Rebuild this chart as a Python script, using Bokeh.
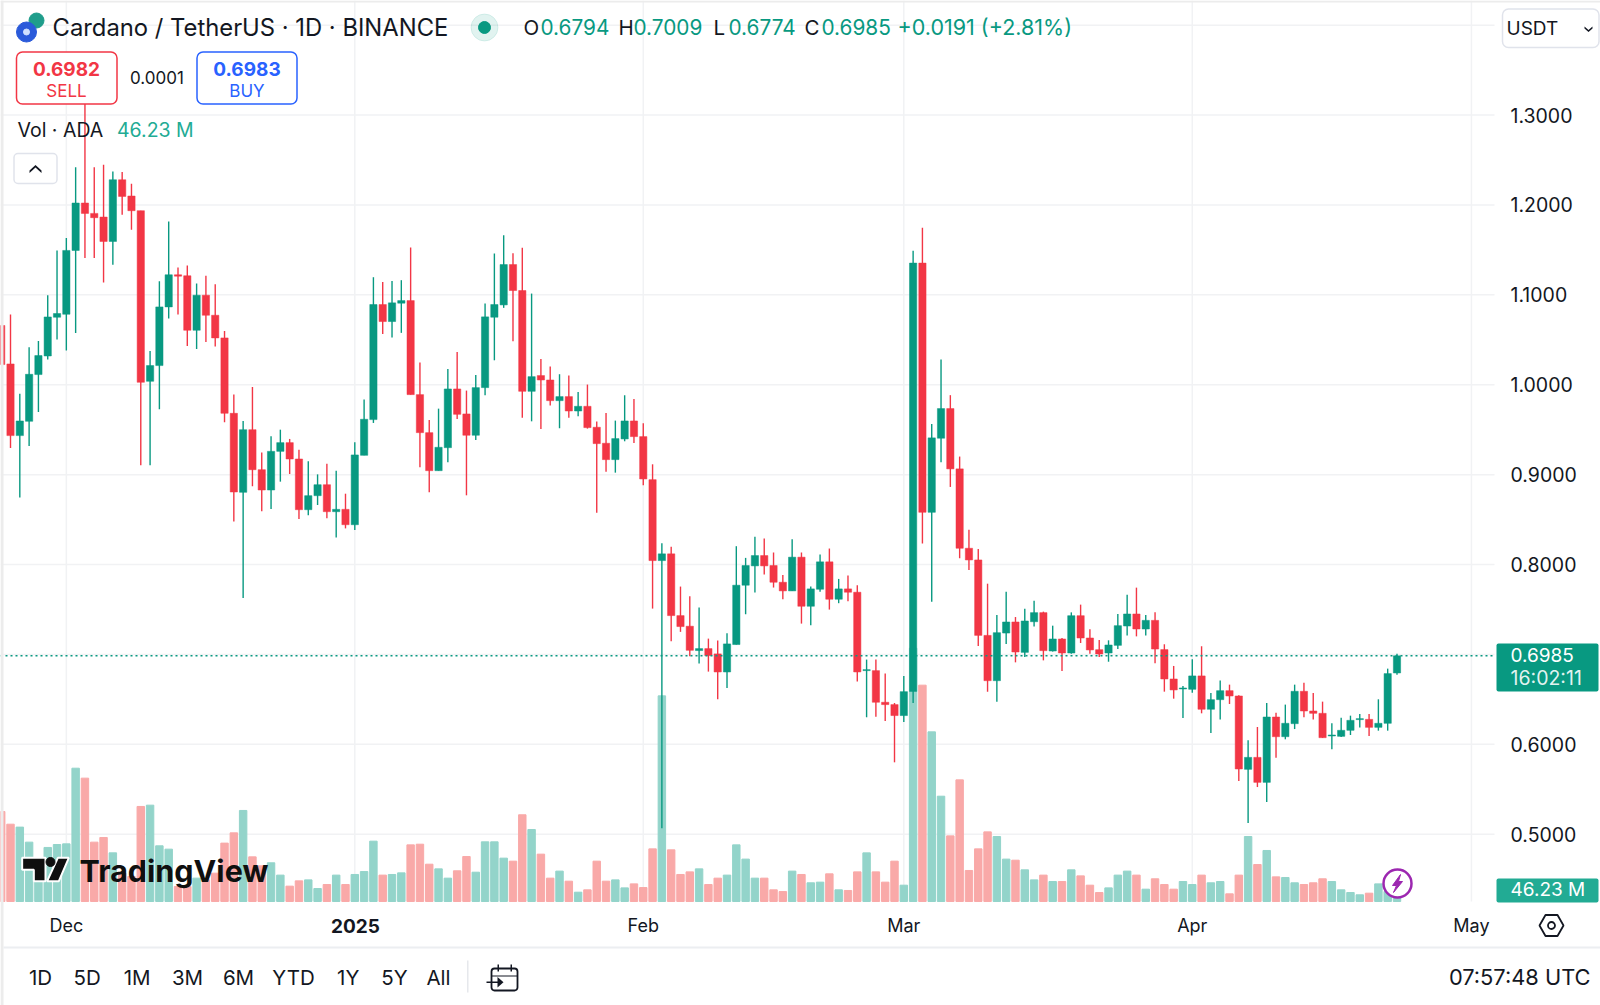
from bokeh.plotting import figure
from bokeh.models import (Range1d, FixedTicker, Label, BoxAnnotation, PolyAnnotation, LinearAxis,
                          ColumnDataSource, NumeralTickFormatter)
from bokeh.embed import file_html
from bokeh.resources import INLINE

opens = [1.0659,1.0231,.9434,.9593,1.0113,1.032,1.0751,1.0784,1.1494,1.2021,1.1906,1.1865,1.1594,1.228,1.2099,1.1936,1.0038,1.0213,1.0866,1.1223,
1.1212,1.0606,1.0996,1.0773,1.0521,.9682,.8803,.95,.9055,.8829,.9259,.9356,.9174,.861,.8766,.8888,.8588,.8614,.8443,.9215,
.9612,1.0892,1.0703,1.0907,1.0936,.989,.9467,.9044,.93,.9953,.9675,.9438,.9968,1.0751,1.0888,1.1337,1.1048,.9927,1.0102,1.0053,
.9823,.9868,.9708,.976,.9527,.9349,.9167,.9397,.9597,.9423,.8944,.8044,.8119,.7432,.7314,.7043,.7065,.7006,.6805,.711,
.777,.7985,.81,.7989,.7803,.7707,.8082,.7536,.7725,.803,.7614,.7729,.7692,.682,.682,.6468,.6442,.632,.6589,1.1353,
.8581,.9405,.9735,.9064,.8181,.8051,.7212,.6708,.7238,.7361,.7023,.7364,.7465,.7038,.7172,.7016,.7431,.7183,.7053,.7016,
.7101,.7316,.745,.7283,.7379,.7054,.6727,.6616,.6612,.6761,.639,.6497,.6597,.6538,.5722,.5855,.5577,.6304,.6085,.623,
.659,.6371,.6345,.6093,.6089,.6156,.6275,.6278,.6189,.6234,.6794]
highs = [1.0659,1.078,.9901,1.0417,1.0487,1.0996,1.1494,1.1631,1.2418,1.317,1.2418,1.2448,1.2373,1.2366,1.2236,1.1936,1.0376,1.1151,1.1817,1.1305,
1.1327,1.1125,1.1212,1.1118,1.0599,.989,.9597,.9975,.9245,.9426,.95,.9397,.9278,.9148,.9003,.9122,.9044,.8788,.936,.9835,
1.1196,1.1144,1.1155,1.1163,1.1526,1.0246,.9608,.9734,1.0176,1.0365,.9935,1.0109,1.0903,1.146,1.1664,1.1463,1.1523,1.1014,1.0287,1.0202,
1.0117,1.0102,.992,1.0002,.959,.9686,.9601,.9883,.9842,.9571,.9115,.8237,.8197,.7755,.7648,.7521,.7176,.7154,.7236,.8204,
.8074,.8308,.829,.8134,.7885,.8282,.8134,.7755,.8111,.8178,.784,.7878,.777,.6943,.6943,.6787,.646,.6761,1.149,1.1746,
.9564,1.028,.9884,.9201,.8388,.8173,.7787,.7439,.7698,.7416,.7509,.7598,.7476,.732,.7183,.7468,.7554,.7279,.716,.7157,
.745,.7665,.7743,.7439,.7468,.7113,.6872,.6649,.6946,.7091,.6571,.6709,.6664,.6545,.6045,.6193,.646,.635,.6442,.6664,
.6686,.6571,.6475,.6234,.6297,.6319,.6338,.6338,.6501,.6842,.7009]
lows = [1.0224,.9296,.8747,.9319,.9697,1.028,1.0502,1.038,1.0576,1.1409,1.1409,1.1138,1.1335,1.1891,1.1724,.9104,.9104,.9727,1.0736,1.078,
1.0432,1.0398,1.0476,1.0424,.9582,.848,.7627,.887,.8592,.8618,.8922,.9007,.8506,.8547,.8662,.8514,.8302,.8402,.8384,.9215,
.9575,1.0565,1.0525,1.0577,.989,.9081,.8803,.9044,.9137,.9619,.877,.9386,.9883,1.0272,1.0855,1.0484,.9634,.9593,.9508,.9768,
.9516,.9634,.9649,.9512,.8577,.9033,.9022,.9371,.9352,.8881,.751,.5068,.7147,.7251,.698,.6898,.6809,.6501,.6627,.711,
.7447,.7688,.7889,.7744,.7614,.7707,.7343,.7325,.7696,.7499,.757,.7592,.6698,.6301,.6308,.626,.58,.6249,.6459,.8233,
.7587,.9138,.8863,.807,.794,.7094,.6585,.6474,.7116,.6912,.6971,.7312,.6934,.7032,.6815,.7008,.7127,.7008,.6971,.6919,
.706,.7212,.7201,.7212,.6901,.6586,.6508,.6293,.6575,.6345,.6126,.6275,.6449,.5592,.5125,.5525,.5358,.5852,.6056,.617,
.6301,.6275,.6071,.5944,.6082,.6104,.6186,.6093,.6152,.6152,.6774]
closes = [1.0224,.9434,.9597,1.0116,1.0324,1.0754,1.0792,1.1494,1.2021,1.1906,1.1858,1.1594,1.228,1.2095,1.1936,1.0027,1.0213,1.0866,1.1223,1.1208,
1.0606,1.0996,1.0773,1.0521,.9682,.8807,.95,.9055,.8829,.9259,.9356,.9174,.861,.8766,.8888,.8588,.8614,.8443,.9219,.9616,
1.0892,1.0703,1.0911,1.0936,.989,.9467,.9044,.9304,.9953,.9671,.9438,.9968,1.0755,1.0892,1.1337,1.1048,.9927,1.009,1.0053,.9823,
.9868,.9708,.976,.9523,.9345,.9167,.9401,.9597,.9423,.8952,.8044,.8119,.7432,.731,.7046,.7065,.6987,.6805,.7117,.777,
.7989,.81,.7985,.7803,.7707,.8082,.7536,.7729,.803,.7614,.7729,.7692,.6805,.6831,.6468,.6442,.632,.6586,1.1353,.8581,
.9409,.9735,.9064,.8181,.8051,.7212,.6708,.7242,.7361,.7027,.7372,.7465,.7042,.7172,.7016,.7431,.7183,.705,.7005,.7105,
.732,.745,.7283,.7379,.706,.6727,.6605,.6627,.6761,.639,.6497,.6597,.6538,.5726,.5855,.5577,.6304,.6085,.6234,.659,
.6371,.6345,.6074,.6104,.6156,.6267,.6286,.6189,.6234,.6787,.6985]
volumes_m = [832,715,688,549,400,500,527,533,1233,1141,549,592,450,262,231,879,891,515,484,139,
139,216,200,262,540,635,842,413,330,358,244,142,191,200,120,157,244,157,250,277,
558,244,250,265,524,530,345,302,216,284,416,271,552,552,401,373,802,666,438,216,
281,188,86,108,373,188,200,126,163,129,487,1902,478,250,274,302,157,216,244,524,
392,216,216,108,92,281,250,173,179,256,108,102,274,450,274,179,373,151,2343,2001,
1569,974,607,1125,287,487,644,601,392,382,293,200,244,185,185,293,237,151,83,126,
244,281,244,114,210,157,114,185,157,244,173,185,71,244,601,342,472,228,222,173,
157,173,210,185,108,83,62,77,163,92,46.23]

price_ticks = [0.5,0.6,0.7,0.8,0.9,1.0,1.1,1.2,1.3]
price_grid = price_ticks + [1.4]
month_ticks = [7,69,97,128,158]
month_labels = ["Dec","Feb","Mar","Apr","May"]
year_tick = 38
year_label = "2025"
range_buttons = ["1D","5D","1M","3M","6M","YTD","1Y","5Y","All"]

GREEN="#089981"; RED="#f23645"; VGREEN="#93d4ca"; VRED="#f9a9a8"; INK="#131722"; GRID="#f1f2f4"; FONT="Inter"
X_LEFT=-0.0752; X_AXIS=160.48; Y_BASE=0.4251; Y_TOP=1.4274

idx = list(range(len(opens)))
up = [c>=o for o,c in zip(opens,closes)]
src = ColumnDataSource(dict(x=idx,o=opens,h=highs,l=lows,c=closes,v=volumes_m,
    top=[max(o,c) for o,c in zip(opens,closes)], bot=[min(o,c) for o,c in zip(opens,closes)],
    col=[GREEN if u else RED for u in up], vcol=[VGREEN if u else VRED for u in up]))

p = figure(width=1600,height=1005,frame_width=1600,frame_height=1005,output_backend="svg",toolbar_location=None,
           x_range=Range1d(X_LEFT,171.87),y_range=Range1d(0.3095,Y_TOP),
           min_border_left=0,min_border_right=0,min_border_top=0,min_border_bottom=0,
           x_axis_location=None,y_axis_location=None,background_fill_color="white",border_fill_color="white")
p.outline_line_color=None
p.grid.visible=False
p.extra_y_ranges={"vol":Range1d(-962,8334),"py":Range1d(1005,0)}
p.extra_x_ranges={"px":Range1d(0,1600)}

ax=LinearAxis(fixed_location=X_AXIS,ticker=FixedTicker(ticks=price_ticks),formatter=NumeralTickFormatter(format="0.0000"))
ax.axis_line_color=None; ax.major_tick_line_color=None; ax.minor_tick_line_color=None
ax.major_tick_out=0; ax.major_label_standoff=16
ax.major_label_text_font=FONT; ax.major_label_text_font_size="19.5px"; ax.major_label_text_color=INK
p.add_layout(ax,"right")
bx=LinearAxis(fixed_location=Y_BASE,ticker=FixedTicker(ticks=month_ticks))
bx.major_label_overrides={t:s for t,s in zip(month_ticks,month_labels)}
bx.axis_line_color=None; bx.major_tick_line_color=None; bx.minor_tick_line_color=None
bx.major_tick_out=0; bx.major_label_standoff=13
bx.major_label_text_font=FONT; bx.major_label_text_font_size="18px"; bx.major_label_text_color=INK
p.add_layout(bx,"below")

n=len(price_grid); vt=month_ticks+[year_tick]; m=len(vt)
p.segment(x0=[X_LEFT]*n,x1=[X_AXIS]*n,y0=price_grid,y1=price_grid,color=GRID,line_width=1.5)
p.segment(x0=vt,x1=vt,y0=[Y_BASE]*m,y1=[Y_TOP]*m,color=GRID,line_width=1.5)
p.vbar(x="x",top="v",bottom=0,width=0.8,color="vcol",y_range_name="vol",source=src)
p.segment(x0="x",x1="x",y0="l",y1="h",color="col",line_width=1.4,source=src)
p.vbar(x="x",top="top",bottom="bot",width=0.78,fill_color="col",line_color="col",line_width=0.5,source=src)
p.line(x=[X_LEFT,X_AXIS],y=[closes[-1],closes[-1]],color=GREEN,line_dash=[2,3],line_width=1.5)

def txt(x,y,s,size=18,color=INK,align="left",style="normal",alpha=1.0):
    p.add_layout(Label(x=x,y=y,text=s,x_units="canvas",y_units="canvas",text_font=FONT,text_font_size=f"{size}px",
        text_color=color,text_align=align,text_baseline="middle",text_font_style=style,text_alpha=alpha))
def box(l,r,t,b,fill="white",line=None,lw=1.5,rad=0,alpha=1.0):
    p.add_layout(BoxAnnotation(left=l,right=r,top=t,bottom=b,left_units="canvas",right_units="canvas",top_units="canvas",bottom_units="canvas",
        fill_color=fill,fill_alpha=alpha,line_color=line,line_width=lw,line_alpha=1.0 if line else 0,
        border_radius=rad,editable=False))
def poly(xs,ys,fill=None,line=None,lw=1.5):
    p.add_layout(PolyAnnotation(xs=xs,ys=ys,xs_units="canvas",ys_units="canvas",fill_color=fill or "white",fill_alpha=1.0 if fill else 0,
        line_color=line,line_alpha=1.0 if line else 0,line_width=lw,editable=False))

# edge strips of the screenshot
box(0,3,0,1005,"#ececec"); box(0,1600,0,2,"#ececec")

# header
p.scatter([36],[20],x_range_name="px",y_range_name="py",size=15,color="#1f9d8b")
p.scatter([26],[31.5],x_range_name="px",y_range_name="py",size=20,color="#2a5ada")
p.scatter([26],[31.5],x_range_name="px",y_range_name="py",size=6,color="#cfe0ff")
txt(52,26.5,"Cardano / TetherUS · 1D · BINANCE",23.8)
p.scatter([484],[27],x_range_name="px",y_range_name="py",size=27,color=GREEN,alpha=0.12)
p.scatter([484],[27],x_range_name="px",y_range_name="py",size=12,color=GREEN)
for x,l,v in [(523,"O","0.6794"),(618,"H","0.7009"),(713,"L","0.6774"),(804,"C","0.6985")]:
    txt(x,26.5,l,20.5); txt(x+(17 if l in "OC" else 15),26.5,v,20.8,GREEN)
txt(897,26.5,"+0.0191 (+2.81%)",21.5,GREEN)

box(16,116.5,51.5,103.5,"white",RED,1.5,6)
txt(66,68,"0.6982",19,RED,"center","bold"); txt(66,90,"SELL",17,RED,"center")
txt(156.5,77,"0.0001",17,INK,"center")
box(196.5,296.5,51.5,103.5,"white","#2962ff",1.5,6)
txt(246.5,68,"0.6983",19,"#2962ff","center","bold"); txt(246.5,90,"BUY",17,"#2962ff","center")
txt(17,129,"Vol · ADA",19.5); txt(116.5,129,"46.23 M",19.5,"#22ab94")
box(13.5,56.5,153,183,"white","#e0e3eb",1.5,4)
poly([29,35,41,41,35,29],[170,164.5,170,172.5,167,172.5],INK)
box(1502,1598.5,8.5,47,"white","#e0e3eb",1.5,6)
txt(1506,27.5,"USDT",19)
poly([1584,1588,1592,1592,1588,1584],[26,29.5,26,28,31.5,28],INK)

# price labels
box(1496,1598,643,691,GREEN,None,0,2)
txt(1510,654.5,f"{closes[-1]:.4f}",19,"white"); txt(1510,677,"16:02:11",19.5,"white",alpha=0.9)
box(1496,1598,878,902,"#22ab94",None,0,2)
txt(1510,889,"46.23 M",19,"white")

# watermark
wx=lambda a:[v/3 for v in a]; wy=lambda a:[740+v/3 for v in a]
tvx=[65,135,135,100,100,65]; tvy=[352,352,422,422,388,388]
vx=[172,205,175,140]; vy=[352,352,422,422]
p.patch(wx(tvx),wy(tvy),x_range_name="px",y_range_name="py",fill_color="#0f0f0f",line_color="white",line_width=2)
p.patch(wx(vx),wy(vy),x_range_name="px",y_range_name="py",fill_color="#0f0f0f",line_color="white",line_width=2)
p.scatter([50],[861.5],x_range_name="px",y_range_name="py",size=9,color="#0f0f0f")
txt(79,870,"TradingView",30.5,"#0f0f0f","left","bold")

# lightning
p.scatter([1397],[883],x_range_name="px",y_range_name="py",size=28,fill_color="white",line_color="#9c27b0",line_width=2.5)
p.patch([1400,1392,1396,1393,1402,1398],[874,885,885,892,881,881],x_range_name="px",y_range_name="py",color="#9c27b0")

# x-axis extras
txt(355,925,year_label,19,INK,"center","bold")
poly([1539,1545,1557,1563,1557,1545],[925,914.5,914.5,925,935.5,935.5],None,INK,1.8)
box(1547.5,1554.5,921.5,928.5,"white",INK,1.8,4)

# bottom bar
box(3,1600,946,948,"#eceef1")
box(466.5,468,960,992,"#e6e8ec")
for x,s in zip([40,86.7,136.7,187,238,293,347.7,394,438],range_buttons):
    txt(x,977,s,20.5,INK,"center")
box(491,517,968,990,"white",INK,1.8,3)
box(491,517,975,976,INK)
box(497,498.5,964,971,INK); box(510,511.5,964,971,INK)
box(486,500,981,982.5,INK)
poly([497,503,497],[976.5,981.7,987],INK)
txt(1590,976,"07:57:48 UTC",21.8,INK,"right")

open("out.html","w").write(file_html(p,INLINE))
